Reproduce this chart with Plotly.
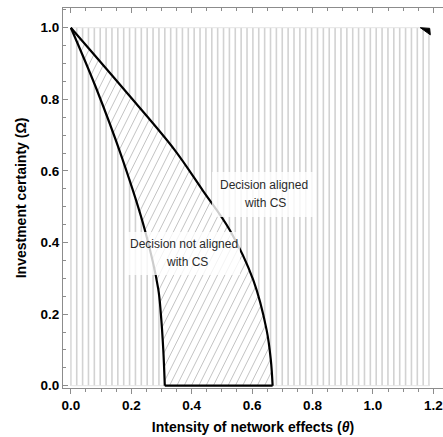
import numpy as np
import plotly.graph_objects as go

# ---- data ----
theta_left = [0.0, 0.082, 0.170, 0.245, 0.289, 0.298, 0.306, 0.311]
omega_left = [1.0, 0.835, 0.635, 0.435, 0.272, 0.200, 0.100, 0.0]

theta_upper = [0.0, 0.204, 0.344, 0.437, 0.526, 0.604, 0.648, 0.662, 0.668]
omega_upper = [1.0, 0.800, 0.658, 0.545, 0.435, 0.295, 0.156, 0.072, 0.0]

region_theta = [0.0, 1.187]
region_omega = [0.0, 1.0]

artifact_theta = [1.157, 1.188, 1.190]
artifact_omega = [1.000, 0.998, 0.980]

x_ticks = [0.0, 0.2, 0.4, 0.6, 0.8, 1.0, 1.2]
y_ticks = [0.0, 0.2, 0.4, 0.6, 0.8, 1.0]

label_aligned = ["Decision aligned", "with CS"]
label_not_aligned = ["Decision not aligned", "with CS"]

# ---- styling / layout constants ----
FONT = "Liberation Sans, Arial, sans-serif"
VSTEP = 0.01944      # vertical hatch spacing (data units)
DSTEP = 0.0242       # diagonal hatch spacing (data units)
DSLOPE = 0.593       # dx/dy of diagonal hatch lines (data units)
SMOOTH = 1.0

fig = go.Figure()

# vertical hatching of the whole region
xs = np.arange(region_theta[0], region_theta[1] + 1e-9, VSTEP)
vx, vy = [], []
for x in xs:
    vx += [x, x, None]
    vy += [region_omega[0], region_omega[1], None]
fig.add_trace(go.Scatter(x=vx, y=vy, mode="lines",
                         line=dict(color="#d2d2d2", width=1.6),
                         hoverinfo="skip", showlegend=False))
# faint boundary of the region
fig.add_trace(go.Scatter(
    x=[region_theta[0], region_theta[1], region_theta[1], region_theta[0], region_theta[0]],
    y=[region_omega[0], region_omega[0], region_omega[1], region_omega[1], region_omega[0]],
    mode="lines", line=dict(color="#e4e4e4", width=1),
    hoverinfo="skip", showlegend=False))

# lens region filled white
poly_x = list(theta_left) + list(theta_upper[::-1])
poly_y = list(omega_left) + list(omega_upper[::-1])
fig.add_trace(go.Scatter(x=poly_x, y=poly_y, mode="lines", fill="toself",
                         fillcolor="white", line=dict(width=0),
                         hoverinfo="skip", showlegend=False))

# diagonal hatch inside the lens
yy = np.linspace(0, 1, 4001)
xl = np.interp(yy, omega_left[::-1], theta_left[::-1])
xr = np.interp(yy, omega_upper[::-1], theta_upper[::-1])
dx, dy = [], []
cmin = -DSLOPE * 1.0
cmax = max(theta_upper) + 0.01
for c in np.arange(cmin, cmax, DSTEP):
    xx = c + DSLOPE * yy
    inside = (xx > xl) & (xx < xr)
    if not inside.any():
        continue
    idx = np.where(inside)[0]
    breaks = np.where(np.diff(idx) > 1)[0]
    starts = np.r_[idx[0], idx[breaks + 1]]
    ends = np.r_[idx[breaks], idx[-1]]
    for s, e in zip(starts, ends):
        dx += [xx[s], xx[e], None]
        dy += [yy[s], yy[e], None]
fig.add_trace(go.Scatter(x=dx, y=dy, mode="lines",
                         line=dict(color="#c4c4c4", width=1),
                         hoverinfo="skip", showlegend=False))

# black boundaries
fig.add_trace(go.Scatter(x=theta_left, y=omega_left, mode="lines",
                         line=dict(color="black", width=2.2, shape="spline", smoothing=SMOOTH),
                         hoverinfo="skip", showlegend=False))
fig.add_trace(go.Scatter(x=theta_upper, y=omega_upper, mode="lines",
                         line=dict(color="black", width=2.2, shape="spline", smoothing=SMOOTH),
                         hoverinfo="skip", showlegend=False))
fig.add_trace(go.Scatter(x=[theta_left[-1], theta_upper[-1]], y=[omega_left[-1], omega_upper[-1]],
                         mode="lines", line=dict(color="black", width=2.2),
                         hoverinfo="skip", showlegend=False))

# small artifact triangle top-right
fig.add_trace(go.Scatter(x=artifact_theta + [artifact_theta[0]],
                         y=artifact_omega + [artifact_omega[0]],
                         mode="lines", fill="toself", fillcolor="black",
                         line=dict(color="black", width=1),
                         hoverinfo="skip", showlegend=False))

# label backgrounds
fig.add_shape(type="rect", x0=0.467, x1=0.801, y0=0.471, y1=0.597,
              fillcolor="rgba(255,255,255,0.8)", line=dict(width=0), layer="above")
fig.add_shape(type="rect", x0=0.189, x1=0.560, y0=0.309, y1=0.429,
              fillcolor="rgba(255,255,255,0.8)", line=dict(width=0), layer="above")

for txt, (x, y) in zip(label_aligned, [(0.638, 0.561), (0.642, 0.510)]):
    fig.add_annotation(x=x, y=y, text=txt, showarrow=False,
                       font=dict(family=FONT, size=12, color="#2a2a2a"))
for txt, (x, y) in zip(label_not_aligned, [(0.376, 0.396), (0.386, 0.345)]):
    fig.add_annotation(x=x, y=y, text=txt, showarrow=False,
                       font=dict(family=FONT, size=12, color="#2a2a2a"))

axis_col = "#8c8c8c"
fig.update_layout(
    width=443, height=437,
    margin=dict(l=63, r=0, t=8, b=49),
    plot_bgcolor="white", paper_bgcolor="white",
    showlegend=False,
    xaxis=dict(range=[-0.026, 1.232], tickvals=x_ticks,
               ticktext=[f"{v:.1f}" for v in x_ticks],
               showgrid=False, zeroline=False,
               showline=True, linecolor=axis_col, linewidth=1,
               ticks="outside", ticklen=5, tickcolor=axis_col, tickwidth=1,
               minor=dict(dtick=0.05, tick0=0, ticks="outside", ticklen=3,
                          tickcolor=axis_col, showgrid=False),
               tickfont=dict(family=FONT, size=13.5, color="black", weight="bold"),
               title=dict(text="<b>Intensity of network effects (<i>θ</i>)</b>",
                          font=dict(family=FONT, size=14, color="black"), standoff=9)),
    xaxis2=dict(range=[-0.026, 1.232], overlaying="x", side="top",
                tickvals=x_ticks, showticklabels=False,
                showgrid=False, zeroline=False,
                showline=True, linecolor=axis_col, linewidth=1,
                ticks="inside", ticklen=5, tickcolor=axis_col,
                minor=dict(dtick=0.05, tick0=0, ticks="inside", ticklen=3,
                           tickcolor=axis_col, showgrid=False)),
    yaxis=dict(range=[-0.0064, 1.055], tickvals=y_ticks,
               ticktext=[f"{v:.1f}" for v in y_ticks],
               showgrid=False, zeroline=False,
               showline=True, linecolor=axis_col, linewidth=1,
               ticks="inside", ticklen=5, tickcolor=axis_col, tickwidth=1,
               minor=dict(dtick=0.05, tick0=0, ticks="inside", ticklen=3,
                          tickcolor=axis_col, showgrid=False),
               tickfont=dict(family=FONT, size=13.5, color="black", weight="bold"),
               title=dict(text="<b>Investment certainty (Ω)</b>",
                          font=dict(family=FONT, size=14, color="black"), standoff=10)),
)
fig.add_trace(go.Scatter(x=[None], y=[None], xaxis="x2", showlegend=False, hoverinfo="skip"))

fig.write_html("out.html")
